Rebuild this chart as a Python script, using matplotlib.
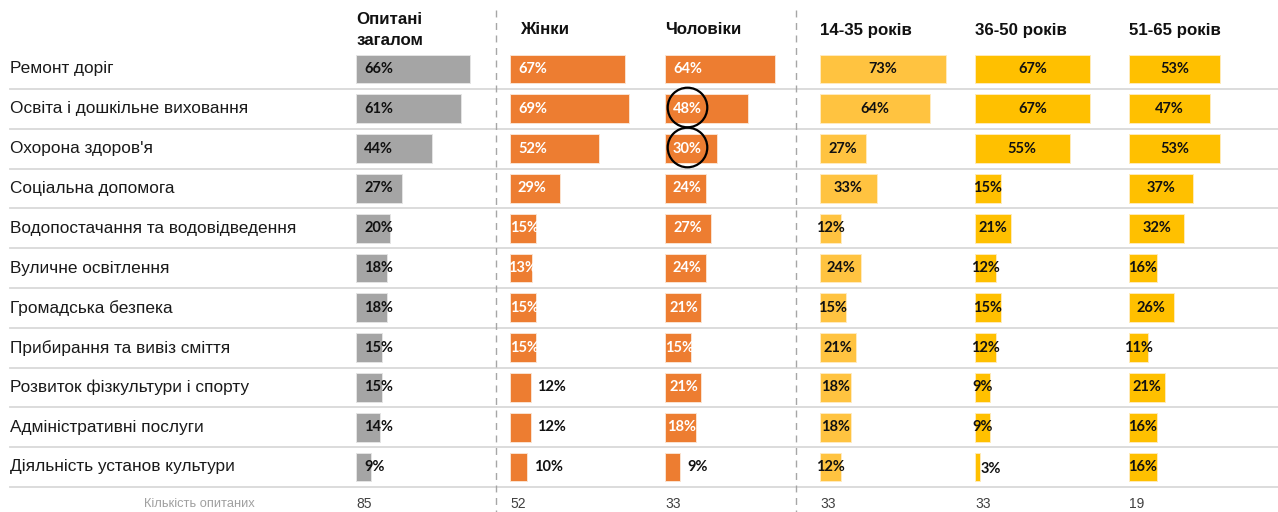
import matplotlib
matplotlib.use("Agg")
import matplotlib.pyplot as plt

categories = [
    "Ремонт доріг",
    "Освіта і дошкільне виховання",
    "Охорона здоров'я",
    "Соціальна допомога",
    "Водопостачання та водовідведення",
    "Вуличне освітлення",
    "Громадська безпека",
    "Прибирання та вивіз сміття",
    "Розвиток фізкультури і спорту",
    "Адміністративні послуги",
    "Діяльність установ культури",
]

headers = ["Опитані\nзагалом", "Жінки", "Чоловіки", "14-35 років", "36-50 років", "51-65 років"]
overall = [66, 61, 44, 27, 20, 18, 18, 15, 15, 14, 9]
women = [67, 69, 52, 29, 15, 13, 15, 15, 12, 12, 10]
men = [64, 48, 30, 24, 27, 24, 21, 15, 21, 18, 9]
age_14_35 = [73, 64, 27, 33, 12, 24, 15, 21, 18, 18, 12]
age_36_50 = [67, 67, 55, 15, 21, 12, 15, 12, 9, 9, 3]
age_51_65 = [53, 47, 53, 37, 32, 16, 26, 11, 21, 16, 16]
respondents = [85, 52, 33, 33, 33, 19]
highlighted_men = [1, 2]  # кола навколо значень у колонці "Чоловіки"

series = [overall, women, men, age_14_35, age_36_50, age_51_65]
colors = ["#A5A5A5", "#ED7D31", "#ED7D31", "#FFC340", "#FFC000", "#FFC000"]
edges = ["#E4E4E4", "#FBE3D0", "#FBE3D0", "#FFEBC0", "#FFEBB8", "#FFEBB8"]
# режим підпису: base = біля початку, inside = білий всередині, center = по центру
modes = ["base", "inside", "inside", "center", "center", "center"]

W, H = 1278, 512
PX_PER_PCT = 1.72
col_x = [356, 510, 665, 820, 975, 1129]
col_w = 150
y0, dy = 69, 39.8
ylim = ((H - y0) / dy, -y0 / dy)

plt.rcParams["font.family"] = ["Liberation Sans", "DejaVu Sans"]
fig = plt.figure(figsize=(W / 100, H / 100), dpi=100)

# фонова вісь: підписи рядків, розділювачі, пунктир
bg = fig.add_axes([0, 0, 1, 1])
bg.set_xlim(0, W)
bg.set_ylim(*ylim)
bg.axis("off")
n = len(categories)
for i, cat in enumerate(categories):
    bg.text(10, i, cat, ha="left", va="center", fontsize=12.4, color="#1a1a1a")
    bg.plot([10, W], [i + 0.5, i + 0.5], color="#D9D9D9", lw=1.3, zorder=0)
for xv in (496, 796):
    bg.plot([xv, xv], [(10 - y0) / dy, ylim[0]], color="#A6A6A6", lw=1.0,
            ls=(0, (5, 4)), zorder=0)
bg.text(255, n - 0.07, "Кількість опитаних", ha="right", va="center",
        fontsize=9.3, color="#A0A0A0")

lbl_font = dict(family=["Lato", "DejaVu Sans"], fontweight="bold", fontsize=10.5)
txt_w = 27 / PX_PER_PCT   # приблизна ширина підпису в одиницях %
pad = 8 / PX_PER_PCT

for k, (vals, col, mode) in enumerate(zip(series, colors, modes)):
    ax = fig.add_axes([col_x[k] / W, 0, col_w / W, 1])
    ax.set_xlim(0, col_w / PX_PER_PCT)
    ax.set_ylim(*ylim)
    ax.axis("off")
    ax.barh(range(n), vals, height=0.72, color=col, edgecolor=edges[k],
            linewidth=0.7)
    for i, v in enumerate(vals):
        s = f"{v}%"
        if mode == "base":
            ax.text(pad, i, s, ha="left", va="center", color="#111111", **lbl_font)
        elif mode == "inside":
            if v < 13:
                ax.text(v + pad * 0.8, i, s, ha="left", va="center",
                        color="#111111", **lbl_font)
            elif v < txt_w + 2 * pad:
                ax.text(v / 2 + 0.8, i, s, ha="center", va="center",
                        color="white", **lbl_font)
            else:
                ax.text(pad, i, s, ha="left", va="center", color="white", **lbl_font)
        else:
            if v < 5:
                ax.text(v + 0.5, i + 0.05, s, ha="left", va="center",
                        color="#111111", **lbl_font)
            else:
                ax.text(v / 2, i, s, ha="center", va="center",
                        color="#111111", **lbl_font)
    hx = 6 if k == 1 else 0
    ax.text(hx, (30 - y0) / dy, headers[k], ha="left", va="center",
            fontsize=12.2, fontweight="bold", color="#111111", linespacing=1.45)
    ax.text(0, n - 0.07, str(respondents[k]), ha="left", va="center",
            fontsize=10, color="#404040")
    if k == 2:
        for i in highlighted_men:
            ax.plot(pad + txt_w / 2, i - 0.05, marker="o", markersize=28.5,
                    markerfacecolor="none", markeredgecolor="black",
                    markeredgewidth=1.6)

fig.savefig("out.png", dpi=100)
